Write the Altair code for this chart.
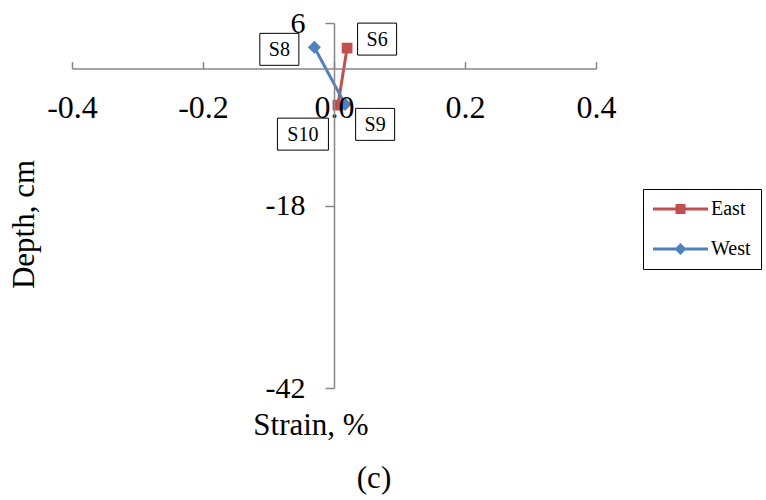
import altair as alt
import pandas as pd

# Strain gauge readings by depth for the east and west faces
series = ["East", "East", "West", "West"]
gauge = ["S6", "S10", "S8", "S9"]
strain = [0.02, 0.006, -0.03, 0.017]
depth = [2.7, -4.8, 2.8, -4.7]
order = [0, 1, 0, 1]

x_ticks = [-0.4, -0.2, 0.0, 0.2, 0.4]
y_ticks = [6, -18, -42]

df = pd.DataFrame({
    "series": series,
    "gauge": gauge,
    "strain": strain,
    "depth": depth,
    "order": order,
})

FONT = "Liberation Serif"
AXIS_GREY = "#868686"
SERIES_COLORS = {"East": "#C0504D", "West": "#4F81BD"}
SERIES_MARKERS = {"East": ("square", 115), "West": ("diamond", 170)}

x_enc = alt.X(
    "strain:Q",
    scale=alt.Scale(domain=[-0.4, 0.4], nice=False, zero=False),
    axis=alt.Axis(
        orient="top", offset=-45.6, values=x_ticks,
        labelExpr="replace(format(datum.value, '.1f'), '\u2212', '-')",
        tickSize=7, labelPadding=-55.4, labelBaseline="alphabetic",
        labelFlush=False, labelOverlap=False,
        labelFont=FONT, labelFontSize=32, labelColor="black",
        domainColor=AXIS_GREY, domainWidth=1.5, tickColor=AXIS_GREY, tickWidth=1.5,
        grid=False, zindex=1,
        title="Strain, %", titleX=238.5, titleY=365.4,
        titleBaseline="alphabetic", titleAlign="center",
        titleFont=FONT, titleFontSize=31, titleFontWeight="normal", titleColor="black",
    ),
)
y_enc = alt.Y(
    "depth:Q",
    scale=alt.Scale(domain=[-42, 6], nice=False, zero=False),
    axis=alt.Axis(
        orient="left", offset=-262, values=y_ticks,
        labelExpr="replace(format(datum.value, 'd'), '\u2212', '-')",
        tickSize=9, labelPadding=20, labelFlush=False, labelOverlap=False,
        labelFont=FONT, labelFontSize=30, labelColor="black",
        domainColor=AXIS_GREY, domainWidth=1.5, tickColor=AXIS_GREY, tickWidth=1.5,
        grid=False, zindex=1,
        title="Depth, cm", titleX=-300.7, titleY=201, titleAngle=-90,
        titleBaseline="alphabetic", titleAlign="center",
        titleFont=FONT, titleFontSize=31, titleFontWeight="normal", titleColor="black",
    ),
)

base = alt.Chart(df).encode(x=x_enc, y=y_enc)

series_layers = []
for name, col in SERIES_COLORS.items():
    part = base.transform_filter(alt.datum.series == name)
    shape, size = SERIES_MARKERS[name]
    series_layers.append(
        part.mark_line(strokeWidth=3, color=col).encode(order=alt.Order("order:Q"))
    )
    series_layers.append(
        part.mark_point(shape=shape, filled=True, size=size, opacity=1, color=col)
    )

# legend symbols: a line segment with the series marker at its middle,
# drawn to the right of the nominal symbol box (1 unit = 10 px)
legend_paths = [
    "M-1,-0.15H4.5V0.15H-1Z M1.25,-0.5H2.25V0.5H1.25Z",
    "M-1,-0.15H4.5V0.15H-1Z M1.75,-0.6L2.35,0L1.75,0.6L1.15,0Z",
]
legend_opts = dict(
    orient="none", legendX=571, legendY=166,
    strokeColor="black", fillColor="white", padding=10,
    labelFont=FONT, labelFontSize=20, labelColor="black", labelOffset=38,
    symbolSize=400, symbolStrokeWidth=0, symbolOpacity=1, rowPadding=20,
)
# carries the legend only; its own marks are fully transparent
legend_layer = base.mark_point(filled=True).encode(
    color=alt.Color(
        "series:N", title="",
        scale=alt.Scale(domain=list(SERIES_COLORS), range=list(SERIES_COLORS.values())),
        legend=alt.Legend(**legend_opts),
    ),
    shape=alt.Shape(
        "series:N", title="",
        scale=alt.Scale(domain=list(SERIES_COLORS), range=legend_paths),
        legend=alt.Legend(**legend_opts),
    ),
    opacity=alt.value(0),
)

# boxed gauge labels: (dx, dy, box width)
label_place = {
    "S6": (30, -9, 39),
    "S8": (-35, 2, 39),
    "S9": (30, 20, 39),
    "S10": (-35, 29, 51),
}
BOX_UNIT = 25.5  # half of sqrt(2601)
label_layers = []
for g, (dx, dy, w) in label_place.items():
    hw = w / 2 / BOX_UNIT
    hh = 16 / BOX_UNIT
    box_path = f"M{-hw:.3f},{-hh:.3f}H{hw:.3f}V{hh:.3f}H{-hw:.3f}Z"
    sel = base.transform_filter(alt.datum.gauge == g)
    label_layers.append(
        sel.mark_point(
            shape=box_path, size=2601, filled=True, fill="white",
            stroke="black", strokeWidth=1, opacity=1, xOffset=dx, yOffset=dy,
        )
    )
    label_layers.append(
        sel.mark_text(
            font=FONT, fontSize=20, color="black", align="center",
            baseline="middle", dx=dx, dy=dy + 1,
        ).encode(text="gauge:N")
    )

chart = alt.layer(*series_layers, legend_layer, *label_layers).properties(
    width=524,
    height=365,
    autosize=alt.AutoSizeParams(type="none"),
    padding={"left": 72, "top": 23, "right": 170, "bottom": 112},
    background="white",
    title=alt.TitleParams(
        "(c)", orient="bottom", anchor="middle", dx=40, offset=24,
        font=FONT, fontSize=31, fontWeight="normal", color="black",
    ),
).configure_view(stroke=None)

chart.save("out.html", embed_options={"renderer": "svg", "actions": False})
